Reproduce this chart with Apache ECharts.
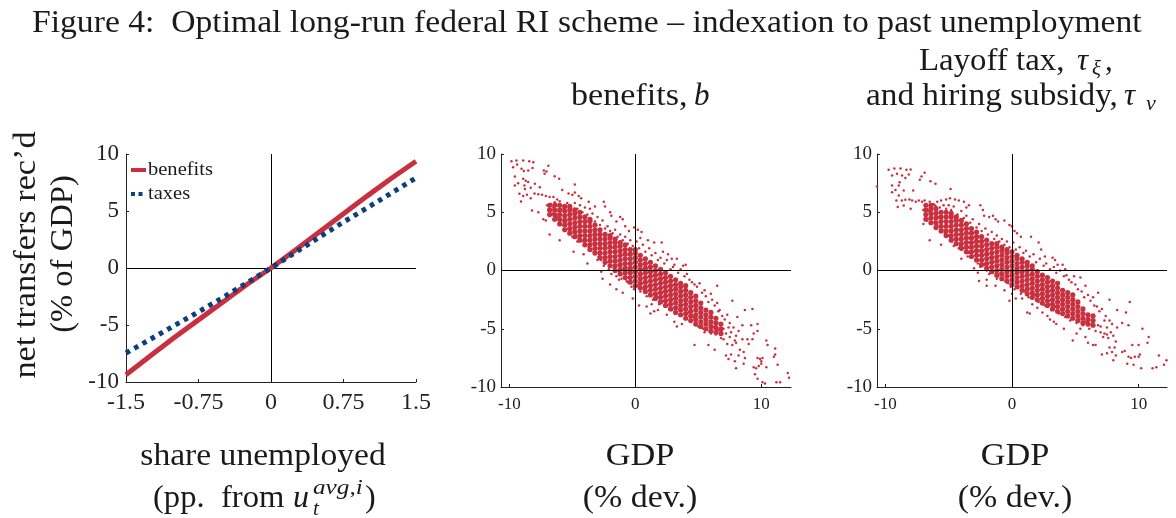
<!DOCTYPE html>
<html><head><meta charset="utf-8"><style>html,body{margin:0;padding:0;background:#fff}#c{width:1176px;height:518px}</style>
<script src="https://cdn.jsdelivr.net/npm/echarts@6/dist/echarts.min.js"></script></head>
<body><div id="c"></div><script>
const unemp = [-1.5,-1.25,-1,-0.75,-0.5,-0.25,0,0.25,0.5,0.75,1,1.25,1.5];
const benefits = [-9.36,-7.72,-6.1,-4.55,-3.0,-1.45,0,1.55,3.15,4.75,6.35,7.9,9.36];
const taxes = [-7.46,-6.26,-5.05,-3.85,-2.6,-1.3,0,1.35,2.7,4.03,5.3,6.6,7.9];
const xTicks1 = [-1.5,-0.75,0,0.75,1.5];
const xTicksScatter = [-10,0,10];

const benefitCoreX = [-6.8,-6.4,-6,-5.6,-5.2,-4.8,-4.4,-4,-3.6,-3.2,-2.8,-2.4,-2,-1.6,-1.2,-0.8,-0.4,0,0.4,0.8,1.2,1.6,2,2.4,2.8,3.2,3.6,4,4.4,4.8,5.2,5.6,6,6.4,6.8];
const benefitCoreY = [[4.8,5.2,5.6],[4.4,4.8,5.2,5.6],[4,4.4,4.8,5.2,5.6],[3.5,3.9,4.3,4.7,5.1,5.5],[3.2,3.6,4,4.4,4.8,5.2,5.5],[2.9,3.3,3.7,4.1,4.5,4.9,5.2],[2.6,3,3.4,3.8,4.2,4.6,5],[2.2,2.6,3,3.4,3.8,4.2,4.6],[1.8,2.2,2.6,3,3.4,3.8,4.2,4.4],[1.5,1.9,2.3,2.7,3.1,3.5,3.9],[1.1,1.5,1.9,2.3,2.7,3.1,3.5],[0.7,1.1,1.5,1.9,2.3,2.7,3.1],[0.4,0.8,1.2,1.6,2,2.4,2.8,3],[0,0.4,0.8,1.2,1.6,2,2.4,2.7],[-0.3,0.1,0.5,0.9,1.3,1.7,2.1,2.4],[-0.6,-0.2,0.2,0.6,1,1.4,1.8,2.2],[-1,-0.6,-0.2,0.2,0.6,1,1.4,1.8],[-1.3,-0.9,-0.5,-0.1,0.3,0.7,1.1,1.5,1.8],[-1.5,-1.1,-0.7,-0.3,0.1,0.5,0.9,1.3],[-1.8,-1.4,-1,-0.6,-0.2,0.2,0.6,1],[-2.1,-1.7,-1.3,-0.9,-0.5,-0.1,0.3,0.7],[-2.4,-2,-1.6,-1.2,-0.8,-0.4,0,0.4],[-2.7,-2.3,-1.9,-1.5,-1.1,-0.7,-0.3,0.1],[-3,-2.6,-2.2,-1.8,-1.4,-1,-0.6,-0.2],[-3.3,-2.9,-2.5,-2.1,-1.7,-1.3,-0.9,-0.5],[-3.6,-3.2,-2.8,-2.4,-2,-1.6,-1.2,-0.8],[-3.8,-3.4,-3,-2.6,-2.2,-1.8,-1.4,-1.1],[-4.1,-3.7,-3.3,-2.9,-2.5,-2.1,-1.7,-1.3],[-4.3,-3.9,-3.5,-3.1,-2.7,-2.3,-1.9],[-4.6,-4.2,-3.8,-3.4,-3,-2.6,-2.2],[-4.8,-4.4,-4,-3.6,-3.2,-2.8],[-5,-4.6,-4.2,-3.8,-3.4],[-5.2,-4.8,-4.4,-4,-3.6],[-5.3,-4.9,-4.5,-4.1],[-5.4,-5,-4.6]];
const benefitDots = [[-9.83,9.38],[-9.43,9.44],[-8.9,9.44],[-8.42,9.38],[-8.1,9.3],[-10.67,7.8],[-9.7,8.87],[-9.38,9.1],[-9.03,8.73],[-8.85,8.55],[-8.5,8.58],[-8.16,8.8],[-6.9,9],[-7.26,8.58],[-7.2,8.3],[-7.05,8.5],[-6.4,8.1],[-6.04,7.87],[-9.56,8.07],[-8.9,7.87],[-8.7,7.7],[-8.5,7.6],[-8.8,7.3],[-9.3,7.5],[-9.56,7.3],[-8.76,7],[-7.97,7.44],[-7.58,7.15],[-8.3,7.1],[-4.8,7.38],[-9.2,6.58],[-9.07,5.92],[-8.2,5.15],[-7.7,5],[-8.9,6.4],[-8.6,6.5],[-8.3,6.2],[-8,6.6],[-7.7,6.55],[-7.4,6.5],[-7.1,6.4],[-6.8,6.3],[-6.5,6.3],[-6.2,6.1],[-6.4,5.85],[-6.7,5.7],[-6,5.95],[-5.8,6.9],[-5.3,6.6],[-5,6.5],[-4.8,6.7],[-4.5,6.4],[-4.3,6.2],[-3.7,5.9],[-3.6,5.3],[-3.2,5.5],[-2.5,5.9],[-2.4,5.5],[-2,5],[-1.9,4.7],[-1.2,4.6],[-1,4.4],[-1.5,4.2],[-0.8,3.8],[-0.5,3.4],[-0.1,3.7],[0.2,3.5],[0.5,3.3],[0.4,2.8],[1,2.6],[1.5,2.4],[2.1,2.4],[2.2,1.6],[2.6,1.4],[2.9,1],[3.3,1],[3.8,0.4],[4,0.5],[3.1,0.5],[-7.3,4.4],[-7.1,4.3],[-6.8,3.1],[-6,2.6],[-5.7,3.5],[-5,2.9],[-4.9,1.6],[-4.6,2.5],[-4.1,1.4],[-3.8,0.6],[-3.3,1.6],[-3,0.9],[-2.7,-0.1],[-2.6,-0.7],[-2,-1.2],[-1.3,-0.8],[-1.5,-1.6],[-1,-1.9],[-0.6,-1],[-0.2,-2.4],[-0.1,-1.6],[0.3,-3],[0.9,-3.1],[1.2,-3.7],[1.3,-2.9],[1.5,-3.5],[1.8,-3.4],[2.5,-3.8],[3.1,-4.4],[3.3,-4.8],[3.7,-4.6],[4.7,-6.4],[5.8,-6.4],[6.3,-6.8],[6,-5.4],[5.5,-5.3],[7,-5.9],[7.3,-6.3],[7.9,-6],[8,-6.2],[7.5,-5.7],[7.7,-6.4],[8.3,-6.8],[8.6,-7],[8.7,-7.5],[8.2,-7.3],[7.6,-7.2],[7.2,-7.3],[7.4,-7.6],[7.9,-7.8],[8,-8.4],[8.6,-8],[9.4,-8.3],[9.6,-8.4],[9.8,-8.2],[10,-8],[10.4,-8.3],[9.5,-8.9],[9.7,-9.3],[10.1,-9.6],[10.3,-9.7],[11.2,-9.6],[11.5,-9.6],[12.1,-8.8],[12.2,-9.2],[12.4,-8.6],[11.3,-8.1],[11,-7.4],[11.1,-7.2],[11.1,-6.7],[10.4,-6],[10.5,-6.4],[9.7,-7.5],[9.9,-7.6],[10.1,-7.5],[10,-7.8],[9,-6.3],[8.9,-5.9],[8.5,-5.9],[9.3,-5.9],[9.4,-5.4],[9.7,-5.2],[9.2,-4.7],[9.7,-4.6],[9.3,-3.3],[8.7,-3.4],[8.1,-4],[8.5,-4.7],[8.2,-5.2],[7.7,-2.6],[6.5,-1.3],[6.6,-3.5],[5.5,-1.7],[6,-2],[-7,5.6],[-6.8,5.2],[-6.6,4.9],[-6.5,5.4],[-6.3,5.7],[-6.1,5.1],[-6.2,4.6],[-6,4.2],[-5.9,5.6],[-5.7,5.3],[-5.6,4.8],[-5.5,4.2],[-5.4,5.8],[-5.3,3.6],[-5.2,5],[-5.1,4.4],[-5.6,3.9],[-4.9,3.4],[-4.8,5.8],[-4.7,3],[-4.6,5.3],[-4.5,2.8],[-4.4,5.6],[-4.3,3],[-4.2,5],[-4.1,2.5],[-4,5.4],[-3.9,2.2],[-3.8,4.8],[-3.7,2],[-3.6,4.4],[-3.5,1.8],[-3.4,4.9],[-3.3,2.3],[-3.2,4.2],[-3.1,1.6],[-3,4.6],[-2.9,1.2],[-2.8,3.9],[-2.7,0.9],[-2.6,4.3],[-2.5,0.4],[-2.4,3.6],[-2.3,0.7],[-2.2,3.8],[-2.1,0.1],[-2,3.4],[-1.9,-0.3],[-1.8,3.2],[-1.7,0.2],[-1.6,3.5],[-1.5,-0.5],[-1.4,2.9],[-1.3,-0.1],[-1.2,3.1],[-1.1,-0.7],[-1,2.6],[-0.9,-0.3],[-0.8,2.9],[-0.7,-0.9],[-0.6,2.3],[-0.5,-0.6],[-0.4,2.6],[-0.3,-1.4],[-0.2,2.1],[-0.1,-0.9],[0.1,2.5],[0.2,-1.3],[0.3,1.9],[0.4,-1.8],[0.6,2.2],[0.7,-1.6],[0.8,1.6],[0.9,-2.2],[1.1,1.9],[1.2,-2],[1.3,1.3],[1.4,-2.5],[1.6,1.5],[1.7,-2.2],[1.8,0.9],[1.9,-2.9],[2,1.1],[2.1,-2.6],[2.3,0.6],[2.4,-3.1],[2.5,0.9],[2.7,-2.9],[2.8,0.1],[2.9,-3.4],[3,0.3],[3.2,-3.6],[3.4,-0.2],[3.5,-3.3],[3.6,0.1],[3.7,-3.8],[3.9,-0.5],[4,-4.1],[4.1,-0.3],[4.2,-3.6],[4.3,-0.8],[4.4,-4.3],[4.5,-1],[4.6,-4],[4.7,-1.2],[4.8,-4.6],[4.9,-1.4],[5,-4.8],[5.1,-1.1],[5.2,-4.4],[5.3,-1.9],[5.4,-5],[5.6,-2.2],[5.7,-4.6],[5.8,-2.7],[5.9,-5.2],[6.1,-2.5],[6.2,-4.9],[6.3,-3],[6.4,-5.5],[6.5,-2.8],[6.6,-5.1],[6.7,-3.4],[6.8,-5.8],[6.9,-3.9],[7,-5],[7.1,-4.2],[7.2,-5.4],[7.3,-3.8],[7.4,-4.9],[7.5,-4.5],[7.6,-5.3],[7.8,-4.9],[8,-5.6]];

const taxCoreX = [-6.8,-6.4,-6,-5.6,-5.2,-4.8,-4.4,-4,-3.6,-3.2,-2.8,-2.4,-2,-1.6,-1.2,-0.8,-0.4,0,0.4,0.8,1.2,1.6,2,2.4,2.8,3.2,3.6,4,4.4,4.8,5.2,5.6,6,6.4];
const taxCoreY = [[4.4,4.8,5.2,5.6],[4.1,4.5,4.9,5.3,5.6],[3.7,4.1,4.5,4.9,5.3],[3.4,3.8,4.2,4.6,5],[3,3.4,3.8,4.2,4.6,5],[2.6,3,3.4,3.8,4.2,4.6,4.9],[2.3,2.7,3.1,3.5,3.9,4.3,4.6],[1.9,2.3,2.7,3.1,3.5,3.9,4.3],[1.6,2,2.4,2.8,3.2,3.6,4],[1.2,1.6,2,2.4,2.8,3.2,3.6],[0.9,1.3,1.7,2.1,2.5,2.9,3.3],[0.5,0.9,1.3,1.7,2.1,2.5,2.9],[0.2,0.6,1,1.4,1.8,2.2,2.6],[-0.1,0.3,0.7,1.1,1.5,1.9,2.3],[-0.4,0,0.4,0.8,1.2,1.6,2,2.3],[-0.7,-0.3,0.1,0.5,0.9,1.3,1.7,2],[-0.9,-0.5,-0.1,0.3,0.7,1.1,1.5,1.8],[-1.2,-0.8,-0.4,0,0.4,0.8,1.2,1.6],[-1.4,-1,-0.6,-0.2,0.2,0.6,1,1.3],[-1.7,-1.3,-0.9,-0.5,-0.1,0.3,0.7,1],[-2,-1.6,-1.2,-0.8,-0.4,0,0.4,0.7],[-2.3,-1.9,-1.5,-1.1,-0.7,-0.3,0.1,0.4],[-2.5,-2.1,-1.7,-1.3,-0.9,-0.5,-0.1],[-2.8,-2.4,-2,-1.6,-1.2,-0.8,-0.4],[-3,-2.6,-2.2,-1.8,-1.4,-1,-0.6],[-3.3,-2.9,-2.5,-2.1,-1.7,-1.3,-0.9],[-3.5,-3.1,-2.7,-2.3,-1.9,-1.5,-1.1],[-3.7,-3.3,-2.9,-2.5,-2.1,-1.7],[-3.9,-3.5,-3.1,-2.7,-2.3,-1.9],[-4.1,-3.7,-3.3,-2.9,-2.5,-2.1],[-4.3,-3.9,-3.5,-3.1,-2.7],[-4.5,-4.1,-3.7,-3.3],[-4.6,-4.2,-3.8],[-4.7,-4.3,-3.9]];
const taxDots = [[-9.74,8.64],[-9.29,8.76],[-8.8,8.76],[-8.34,8.64],[-8,8.67],[-10.66,7.2],[-9.47,8.15],[-9.08,8.3],[-8.68,8.15],[-8.15,8.24],[-8.42,7.95],[-6.9,8.38],[-7.15,8.07],[-7.28,7.78],[-6.44,7.67],[-6.04,7.44],[-4.85,7],[-9.47,7.3],[-8.94,7.3],[-9.2,6.92],[-8.55,6.87],[-7.8,6.87],[-8.87,7.58],[-9.47,6.72],[-8.94,6.44],[-9.13,6],[-8.42,6.07],[-7.89,6],[-7.36,6],[-9.02,5.44],[-8.55,5.58],[-8,5.3],[-8.7,6],[-8.1,6.1],[-7.6,5.9],[-7.1,5.9],[-6.9,6],[-6.5,5.9],[-6.2,5.7],[-6,5.5],[-6.3,5.4],[-5.9,5.9],[-6.1,5.6],[-6.4,5.6],[-5.6,6],[-5.2,6.1],[-4.9,6.2],[-4.5,6.1],[-4.2,6],[-3.8,5.9],[-3.6,5.4],[-3.4,5.6],[-2.5,5.6],[-2.3,5.2],[-2.2,4.7],[-1.8,4.6],[-1.5,4.7],[-1.3,4.4],[-1.1,4.2],[-0.6,4.3],[-0.2,3.9],[0,3.8],[0.2,3.4],[0.4,3.2],[0.7,2.9],[1.5,2.9],[2.1,2.4],[2.3,1.8],[2.6,1.2],[3.2,1.1],[3.4,0.9],[3.6,0.5],[4,0.5],[4.2,0.1],[-7,4],[-6.7,4.3],[-6.5,2.6],[-5.6,2.2],[-5,3],[-4.6,2.1],[-4.2,1.9],[-4,1],[-3.5,1.2],[-3,0.2],[-2.7,-0.2],[-2.6,-0.9],[-2,-0.8],[-2,-1.3],[-1.2,-0.7],[-1.3,-1.3],[-0.6,-1.7],[-0.5,-0.9],[-0.2,-2.6],[0,-2],[0.3,-2.4],[0.8,-2.4],[1.2,-3.6],[1.4,-3.7],[1.6,-2.9],[2,-3.2],[2.4,-3.6],[2.8,-3.9],[3,-4.2],[3.3,-4.4],[3.5,-4.6],[4.1,-5],[4.8,-6],[5.1,-5.4],[5.4,-5],[5.8,-5.7],[6,-6.2],[6.4,-6.4],[6.6,-6.4],[7.2,-5.7],[7,-5.3],[7.3,-5.4],[7.5,-5.5],[7.8,-5.3],[8,-5.6],[7.6,-5.8],[8.2,-6.1],[8.1,-6.6],[7.7,-6.6],[7.5,-7.1],[7.1,-7.2],[7.9,-7],[8.2,-7.3],[8,-7.7],[8.7,-7],[9.2,-7.4],[8.9,-6.9],[9.1,-8],[9.4,-7.5],[9.7,-7.4],[10,-7.4],[9.6,-8.1],[10.2,-8.4],[10.1,-7.2],[9.5,-6.4],[10,-6.4],[10.8,-5.7],[10.3,-5],[10.7,-6.2],[11.1,-8.4],[11.4,-8.3],[11.6,-7.3],[12.2,-7.7],[12.3,-7.5],[12,-8.1],[9.3,-2.7],[9,-3.6],[8.3,-3.4],[8.7,-4.5],[8.3,-4.9],[9.2,-4.7],[7.7,-2.5],[6.8,-1.9],[6.4,-2.3],[5.4,-0.6],[5.8,-1.3],[4.9,-0.5],[-7,5.2],[-6.8,4.7],[-6.6,5.1],[-6.5,4.4],[-6.3,4.8],[-6.1,4.2],[-6,5],[-5.9,3.9],[-5.8,4.6],[-5.7,5.4],[-5.5,3.5],[-5.4,5.6],[-5.3,3.2],[-5.2,5.3],[-5,5.6],[-4.9,2.9],[-4.8,5.2],[-4.7,2.7],[-4.6,5.5],[-4.4,2.4],[-4.3,4.8],[-4.1,2.1],[-4,5.1],[-3.9,1.9],[-3.8,4.5],[-3.7,1.6],[-3.6,4.7],[-3.4,1.5],[-3.3,4.1],[-3.2,1.2],[-3.1,4.4],[-2.9,0.9],[-2.8,3.7],[-2.7,0.6],[-2.6,4],[-2.5,0.3],[-2.4,3.4],[-2.2,0.5],[-2.1,3.6],[-2,0],[-1.9,3.1],[-1.8,-0.3],[-1.6,3.3],[-1.5,-0.2],[-1.4,2.7],[-1.2,3],[-1.1,-0.5],[-1,2.5],[-0.9,-0.2],[-0.8,2.7],[-0.7,-0.7],[-0.6,2.2],[-0.4,2.5],[-0.3,-1.1],[-0.2,2],[-0.1,-1.4],[0.1,2.4],[0.2,-1.6],[0.3,1.8],[0.5,-1.5],[0.6,2],[0.7,-2],[0.9,1.5],[1,-1.8],[1.1,1.7],[1.3,-2.3],[1.4,1.2],[1.6,-2.4],[1.7,1.4],[1.8,-2.1],[1.9,0.7],[2.1,-2.7],[2.2,1],[2.3,-2.4],[2.5,0.4],[2.6,-3],[2.7,0.6],[2.9,-2.9],[3,0.1],[3.1,-3.4],[3.3,0.3],[3.4,-3.1],[3.5,-0.2],[3.7,-3.7],[3.8,0],[3.9,-3.4],[4.1,-0.5],[4.2,-4],[4.3,-0.4],[4.4,-3.7],[4.5,-0.8],[4.6,-4.3],[4.7,-1],[4.8,-4],[5,-1.2],[5.1,-4.5],[5.2,-1.6],[5.3,-4.2],[5.5,-1.8],[5.6,-4.7],[5.7,-2.3],[5.8,-4.4],[6,-2.1],[6.1,-5],[6.2,-2.6],[6.3,-4.6],[6.5,-3],[6.6,-5.2],[6.7,-3.1],[6.8,-4.7],[6.9,-3.5],[7,-4.8],[7.1,-3.3],[7.3,-4.3],[7.4,-3.9],[7.5,-4.9],[7.7,-4.3],[7.9,-4.6]];

const RED='#c9303f', BLUE='#0b3f7f', INK='#222', FONT='"Liberation Serif"';
const grids=[{left:126,top:154,width:290,height:228},{left:501,top:154,width:290,height:233},{left:877,top:154,width:290,height:233}];
const expand=(xs,ys)=>xs.flatMap((x,i)=>ys[i].map(y=>[x,y]));
function xAx(i,o){return Object.assign({type:'value',gridIndex:i,axisLine:{onZero:false,lineStyle:{color:INK,width:1}},splitLine:{show:false}},o);}
function zero(z){return {silent:true,symbol:'none',animation:false,z:z,label:{show:false},lineStyle:{color:'#000',width:1,type:'solid'},data:[{xAxis:0},{yAxis:0}]};}
function txt(x,y,t,size,o){o=o||{};return {type:'text',x,y,scaleX:o.sx||1,style:{text:t,font:(o.it?'italic ':'')+size+'px '+FONT,fill:'#1a1a1a',textAlign:o.al||'left',textVerticalAlign:'middle'}};}
function vtxt(x,y,t,size,sx){return {type:'text',x,y,rotation:Math.PI/2,scaleX:sx,style:{text:t,font:size+'px '+FONT,fill:'#1a1a1a',textAlign:'center',textVerticalAlign:'middle'}};}
const scatterTick={inside:true,length:3,lineStyle:{color:INK},customValues:xTicksScatter};
const scatterLabel={color:INK,fontFamily:FONT,fontSize:17,margin:9,customValues:xTicksScatter};
const dense={color:RED,opacity:1};
const chart=echarts.init(document.getElementById('c'),null,{renderer:'canvas'});
chart.setOption({animation:false,grid:grids,
xAxis:[xAx(0,{min:-1.5,max:1.5,interval:0.75,axisLabel:{color:INK,fontFamily:FONT,fontSize:24,margin:9,formatter:v=>String(v),customValues:xTicks1},axisTick:{inside:true,length:3,lineStyle:{color:INK},customValues:xTicks1}}),
xAx(1,{min:-10.66,max:12.36,axisTick:scatterTick,axisLabel:scatterLabel}),
xAx(2,{min:-10.66,max:12.24,axisTick:scatterTick,axisLabel:scatterLabel})],
yAxis:[0,1,2].map(i=>({type:'value',gridIndex:i,min:-10,max:10,interval:5,axisLine:{onZero:false,show:true,lineStyle:{color:INK}},axisTick:{show:true,inside:true,length:3,lineStyle:{color:INK}},splitLine:{show:false},axisLabel:{color:INK,fontFamily:FONT,fontSize:i?19:23,margin:i?5:7}})),
series:[
{type:'line',xAxisIndex:0,yAxisIndex:0,data:unemp.map((u,i)=>[u,benefits[i]]),symbol:'none',lineStyle:{color:RED,width:5},z:3,markLine:zero(2)},
{type:'line',xAxisIndex:0,yAxisIndex:0,data:unemp.map((u,i)=>[u,taxes[i]]),symbol:'none',lineStyle:{color:BLUE,width:5,type:[4.5,5]},z:4},
{type:'scatter',xAxisIndex:1,yAxisIndex:1,data:expand(benefitCoreX,benefitCoreY),symbolSize:5.2,itemStyle:dense,z:2,markLine:zero(9)},
{type:'scatter',xAxisIndex:1,yAxisIndex:1,data:benefitDots,symbolSize:2.5,itemStyle:dense,z:3},
{type:'scatter',xAxisIndex:2,yAxisIndex:2,data:expand(taxCoreX,taxCoreY),symbolSize:5.2,itemStyle:dense,z:2,markLine:zero(9)},
{type:'scatter',xAxisIndex:2,yAxisIndex:2,data:taxDots,symbolSize:2.5,itemStyle:dense,z:3}
],
graphic:[
txt(32,24,'Figure 4:  Optimal long-run federal RI scheme – indexation to past unemployment',31,{sx:1.085}),
txt(919,62,'Layoff tax, ',31,{sx:1.06}),txt(1077,62,'τ',31,{it:1}),txt(1092,69,'ξ',21,{it:1}),txt(1105,62,',',31),
txt(571,97,'benefits, ',31,{sx:1.1}),txt(694,97,'b',31,{it:1}),
txt(866,97,'and hiring subsidy, ',31,{sx:1.073}),txt(1124,97,'τ',31,{it:1}),txt(1146,104,'v',22,{it:1}),
vtxt(27,255,'net transfers rec’d',32,1.07),vtxt(64,254,'(% of GDP)',32,1.02),
txt(263,457,'share unemployed',32,{al:'center',sx:1.05}),
txt(153,499,'(pp.  from ',32,{sx:1.02}),txt(293,499,'u',32,{it:1}),txt(313,509,'t',21,{it:1}),txt(313,488,'avg,i',21,{it:1,sx:1.2}),txt(365,499,')',32),
txt(640,457,'GDP',32,{al:'center',sx:1.07}),txt(640,499,'(% dev.)',32,{al:'center',sx:1.06}),
txt(1015,457,'GDP',32,{al:'center',sx:1.07}),txt(1015,499,'(% dev.)',32,{al:'center',sx:1.06}),
{type:'line',shape:{x1:131,y1:170,x2:146,y2:170},style:{stroke:RED,lineWidth:4}},
{type:'line',shape:{x1:131,y1:194,x2:146,y2:194},style:{stroke:BLUE,lineWidth:4,lineDash:[4,3.5]}},
txt(148,170,'benefits',19,{sx:1.08}),txt(148,194,'taxes',19,{sx:1.08})
]});
</script></body></html>
